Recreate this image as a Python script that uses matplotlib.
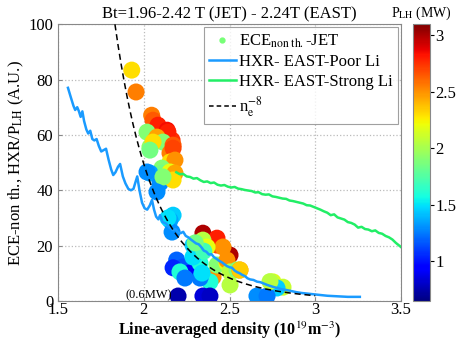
import numpy as np
import matplotlib
matplotlib.use("Agg")
import matplotlib.pyplot as plt
from matplotlib.lines import Line2D

plt.rcParams["font.family"] = ["Liberation Serif", "DejaVu Serif"]
plt.rcParams["mathtext.fontset"] = "stix"

# ECE non-thermal (JET) points: density, signal, LH power (MW)
ece_ne = [1.930, 1.955, 2.046, 2.054, 2.083, 2.136, 2.019, 2.066, 2.036, 2.165,
          2.141, 2.077, 2.112, 2.171, 2.054, 2.036, 2.153, 2.171, 2.153, 2.182,
          2.106, 2.106, 2.153, 2.182, 2.036, 2.019, 2.095, 2.171, 2.112, 2.077,
          2.171, 2.153, 2.165, 2.141,
          2.345, 2.503, 2.427, 2.427, 2.345, 2.462, 2.369, 2.287, 2.192, 2.229,
          2.171, 2.270, 2.328, 2.211, 2.369, 2.404, 2.427, 2.485, 2.485, 2.503,
          2.544, 2.561, 2.386, 2.328, 2.340, 2.287, 2.240, 2.200, 2.345, 2.386,
          2.503, 2.561, 2.754, 2.812, 2.777, 2.660, 2.719, 2.736, 2.350, 2.300]
ece_sig = [83.4, 75.5, 67.1, 65.3, 63.5, 61.7, 61.0, 58.1, 55.6, 58.1,
           61.0, 59.2, 57.4, 56.3, 57.4, 54.5, 53.4, 55.2, 50.2, 50.9,
           48.0, 46.2, 46.6, 46.2, 46.2, 46.6, 42.6, 43.7, 44.8, 39.4,
           31.0, 29.2, 24.9, 30.0,
           24.5, 16.6, 20.2, 22.7, 22.0, 19.5, 19.5, 20.2, 14.8, 12.3,
           12.0, 10.1, 13.7, 10.5, 8.3, 8.7, 13.0, 13.7, 14.8, 10.5,
           11.2, 11.2, 6.9, 8.3, 10.1, 15.9, 8.3, 1.8, 1.8, 1.8,
           5.8, 11.2, 6.9, 5.0, 4.7, 1.8, 1.8, 7.0, 18.0, 21.0]
ece_plh = [2.30, 2.55, 2.55, 2.65, 2.80, 2.85, 1.90, 2.50, 1.95, 2.75,
           2.80, 2.45, 1.90, 2.65, 2.30, 1.85, 2.55, 2.70, 2.30, 2.50,
           1.90, 1.85, 2.20, 2.45, 1.35, 1.30, 1.30, 2.30, 1.90, 1.30,
           1.45, 1.35, 1.30, 1.50,
           3.00, 3.00, 2.70, 2.80, 2.05, 2.50, 2.20, 1.45, 1.20, 1.15,
           1.05, 0.95, 1.60, 1.60, 2.25, 2.50, 1.90, 2.20, 2.50, 2.05,
           1.90, 2.50, 1.60, 1.25, 1.50, 1.50, 1.25, 0.75, 0.85, 0.80,
           2.05, 2.35, 2.15, 2.10, 1.45, 1.30, 1.25, 2.05, 1.70, 1.85]

# HXR EAST, poor lithium conditioning
poor_ne = [1.558, 1.575, 1.590, 1.600, 1.612, 1.622, 1.632, 1.642, 1.652, 1.665,
           1.676, 1.688, 1.700, 1.712, 1.725, 1.738, 1.752, 1.766, 1.780, 1.795,
           1.810, 1.822, 1.835, 1.850, 1.862, 1.878, 1.893, 1.910, 1.925, 1.940,
           1.952, 1.962, 1.975, 1.990, 2.005, 2.020, 2.035, 2.048, 2.060, 2.072,
           2.085, 2.095, 2.110, 2.130, 2.150, 2.170, 2.185, 2.200, 2.215, 2.230,
           2.245, 2.260, 2.275, 2.290, 2.305, 2.320, 2.335, 2.350, 2.365, 2.380,
           2.395, 2.410, 2.425, 2.440, 2.455, 2.470, 2.485, 2.500, 2.515, 2.530,
           2.545, 2.560, 2.575, 2.590, 2.605, 2.620, 2.640, 2.660, 2.680, 2.700,
           2.720, 2.740, 2.760, 2.780, 2.800, 2.830, 2.860, 2.890, 2.920, 2.950,
           2.980, 3.010, 3.040, 3.070, 3.100, 3.130, 3.160, 3.190, 3.220, 3.260]
poor_hxr = [77.0, 73.5, 70.5, 69.0, 70.0, 68.5, 66.5, 68.5, 65.0, 62.0,
            60.5, 61.5, 58.5, 58.0, 58.5, 56.0, 54.0, 54.5, 55.0, 51.0,
            47.5, 45.5, 46.5, 48.5, 49.5, 45.0, 42.5, 40.5, 40.0, 40.5,
            43.0, 45.0, 40.0, 35.5, 33.5, 33.0, 34.5, 36.5, 33.0, 30.5,
            29.5, 31.0, 28.5, 28.0, 26.5, 25.6, 26.0, 24.8, 24.5, 25.0,
            23.5, 23.0, 22.2, 21.5, 20.8, 20.5, 19.5, 18.2, 17.8, 16.8,
            16.9, 15.8, 15.2, 14.5, 14.0, 13.3, 12.6, 12.2, 12.0, 11.0,
            10.4, 10.0, 9.4, 9.0, 8.2, 7.8, 7.6, 7.0, 6.8, 6.3,
            5.8, 5.4, 5.0, 4.7, 4.3, 4.0, 3.6, 3.2, 2.9, 2.7,
            2.5, 2.3, 2.1, 1.9, 1.8, 1.7, 1.6, 1.5, 1.5, 1.5]

# HXR EAST, strong lithium conditioning
strong_ne = [2.19, 2.21, 2.23, 2.25, 2.27, 2.29, 2.31, 2.33, 2.35, 2.37,
             2.39, 2.41, 2.43, 2.45, 2.47, 2.49, 2.51, 2.53, 2.55, 2.57,
             2.59, 2.61, 2.63, 2.65, 2.67, 2.69, 2.71, 2.73, 2.75, 2.77,
             2.79, 2.81, 2.83, 2.85, 2.87, 2.89, 2.91, 2.93, 2.95, 2.97,
             2.99, 3.01, 3.03, 3.05, 3.07, 3.09, 3.11, 3.13, 3.15, 3.17,
             3.19, 3.21, 3.23, 3.25, 3.27, 3.29, 3.31, 3.33, 3.35, 3.37,
             3.39, 3.41, 3.43, 3.45, 3.47, 3.49, 3.50]
strong_hxr = [46.5, 45.8, 45.9, 45.0, 44.8, 44.2, 44.4, 43.6, 43.0, 43.2,
              42.6, 42.8, 42.0, 41.7, 41.9, 41.3, 41.0, 41.2, 40.6, 40.4,
              40.1, 39.9, 39.7, 39.2, 39.3, 38.6, 38.4, 38.5, 37.8, 37.6,
              37.3, 37.0, 36.9, 36.3, 36.1, 35.8, 35.5, 35.2, 34.6, 34.5,
              34.0, 33.5, 33.0, 32.4, 31.9, 31.0, 31.3, 30.2, 29.8, 29.4,
              28.5, 28.2, 27.6, 26.5, 26.8, 26.0, 25.8, 25.2, 25.5, 24.6,
              24.3, 23.5, 23.0, 22.2, 21.0, 20.0, 19.5]

# n_e^-8 scaling curve
fit_coef = 12680.0
fit_exp = -8
fit_ne = np.linspace(1.832, 3.0, 200)

fig = plt.figure(figsize=(4.66, 3.45), dpi=100)
ax = fig.add_axes([0.1245, 0.1275, 0.736, 0.8025])
cax = fig.add_axes([0.886, 0.1275, 0.037, 0.8025])

sc = ax.scatter(ece_ne, ece_sig, c=ece_plh, cmap="jet", vmin=0.65, vmax=3.1,
                s=150, edgecolors="none", zorder=2)
ax.plot(poor_ne, poor_hxr, color="#1a9bff", lw=1.8, zorder=3)
ax.plot(strong_ne, strong_hxr, color="#22ee66", lw=1.8, zorder=3)
ax.plot(fit_ne, fit_coef * fit_ne ** fit_exp, color="black", ls=(0, (4, 2.5)),
        lw=1.1, zorder=4)
ax.text(1.895, 1.0, "(0.6MW)", fontsize=9, zorder=5)

ax.set_xlim(1.5, 3.5)
ax.set_ylim(0, 100)
ax.set_xticks([1.5, 2, 2.5, 3, 3.5])
ax.set_xticklabels(["1.5", "2", "2.5", "3", "3.5"])
ax.set_yticks([0, 20, 40, 60, 80, 100])
ax.tick_params(labelsize=12, direction="in", length=3, color="#888888")
ax.tick_params(axis="x", pad=1)
ax.grid(True, ls=":", color="#bbbbbb", lw=0.9)
ax.set_axisbelow(True)
for sp in ax.spines.values():
    sp.set_color("#888888")

ax.set_xlabel(r"Line-averaged density (10$^{19}$m$^{-3}$)", fontsize=11.5,
              fontweight="bold", labelpad=1)
ax.set_ylabel(r"ECE-non th., HXR/P$_{\mathrm{LH}}$ (A.U.)", fontsize=12, labelpad=2)
ax.set_title("Bt=1.96-2.42 T (JET) - 2.24T (EAST)", fontsize=12, pad=4)

handles = [
    Line2D([], [], ls="none", marker=".", color="#77ff77", markersize=7),
    Line2D([], [], color="#1a9bff", lw=1.8),
    Line2D([], [], color="#22ee66", lw=1.8),
    Line2D([], [], color="black", ls=(0, (3, 2)), lw=1.1),
]
labels = [r"ECE$_{\mathrm{non\ th.}}$-JET", "HXR- EAST-Poor Li",
          "HXR- EAST-Strong Li", r"n$_{\mathrm{e}}^{-8}$"]
leg = ax.legend(handles, labels, loc="upper right", fontsize=12, frameon=True,
                fancybox=False, edgecolor="#888888", handlelength=1.6,
                handletextpad=0.2, borderpad=0.3, labelspacing=0.25,
                borderaxespad=0.2)
leg.get_frame().set_linewidth(0.8)

cb = fig.colorbar(sc, cax=cax)
cb.set_ticks([1, 1.5, 2, 2.5, 3])
cb.ax.set_yticklabels(["1", "1.5", "2", "2.5", "3"])
cb.ax.tick_params(labelsize=12, length=3, pad=1)
cb.outline.set_edgecolor("#888888")
cax.set_title(r"P$_{\mathrm{LH}}$ (MW)", fontsize=10, pad=5)

fig.savefig("out.png", dpi=100)
